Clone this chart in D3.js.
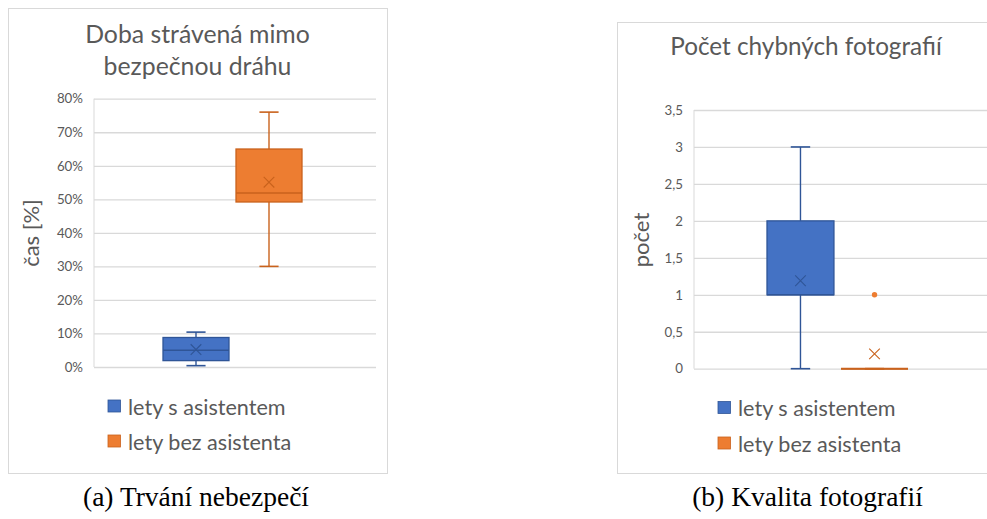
<!DOCTYPE html>
<html><head><meta charset="utf-8">
<script src="https://cdn.jsdelivr.net/npm/d3@7"></script>
<style>
html,body{margin:0;padding:0;background:#fff;}
svg{display:block;}
</style></head>
<body>
<script>
// ---------- DATA ----------
const series = ["lety s asistentem", "lety bez asistenta"];
const seriesColors = ["#4472C4", "#ED7D31"];
const seriesStroke = ["#2F5597", "#C9621C"];

// Chart (a): Doba strávená mimo bezpečnou dráhu  (fractions)
const durMin    = [0.004, 0.30];
const durQ1     = [0.019, 0.492];
const durMedian = [0.050, 0.519];
const durQ3     = [0.088, 0.650];
const durMax    = [0.104, 0.760];
const durMean   = [0.052, 0.551];
const durOutliers = [[], []];
const durTicks  = [0, 0.1, 0.2, 0.3, 0.4, 0.5, 0.6, 0.7, 0.8];
const durTickLabels = ["0%", "10%", "20%", "30%", "40%", "50%", "60%", "70%", "80%"];

// Chart (b): Počet chybných fotografií
const photoMin    = [0, 0];
const photoQ1     = [1, 0];
const photoMedian = [1, 0];
const photoQ3     = [2, 0];
const photoMax    = [3, 0];
const photoMean   = [1.19, 0.2];
const photoOutliers = [[], [1]];
const photoTicks  = [0, 0.5, 1, 1.5, 2, 2.5, 3, 3.5];
const photoTickLabels = ["0", "0,5", "1", "1,5", "2", "2,5", "3", "3,5"];

// ---------- LAYOUT ----------
const W = 987, H = 519;
const svg = d3.select("body").append("svg").attr("width", W).attr("height", H);
const FONT = "Lato, 'Open Sans', sans-serif";
const TXT = "#595959";
const GRID = "#D9D9D9";

const panels = [
  {
    border: [8, 8, 379, 465],
    title: ["Doba strávená mimo", "bezpečnou dráhu"], titleX: 197.5, titleY: [42.5, 75], titleSize: 24.8,
    yTitle: "čas [%]", yTitleX: 39, yTitleY: 233,
    plotX: [94, 376], plotY: [367, 98.7], bandRange: [163, 302],
    domain: [0, 0.8], ticks: durTicks, labels: durTickLabels,
    min: durMin, q1: durQ1, med: durMedian, q3: durQ3, max: durMax, mean: durMean, out: durOutliers,
    legX: 108, legY: [400, 435],
    caption: "(a) Trvání nebezpečí", capX: 196
  },
  {
    border: [617, 22, 400, 451],
    title: ["Počet chybných fotografií"], titleX: 806, titleY: [55], titleSize: 24.3,
    yTitle: "počet", yTitleX: 649, yTitleY: 240,
    plotX: [694, 987], plotY: [368.7, 110], bandRange: [767, 908],
    domain: [0, 3.5], ticks: photoTicks, labels: photoTickLabels,
    min: photoMin, q1: photoQ1, med: photoMedian, q3: photoQ3, max: photoMax, mean: photoMean, out: photoOutliers,
    legX: 718, legY: [401.5, 437],
    caption: "(b) Kvalita fotografií", capX: 807.5
  }
];

panels.forEach(p => {
  const g = svg.append("g");
  g.append("rect").attr("x", p.border[0] + 0.5).attr("y", p.border[1] + 0.5)
    .attr("width", p.border[2]).attr("height", p.border[3])
    .attr("fill", "#fff").attr("stroke", GRID).attr("stroke-width", 1);

  // title
  p.title.forEach((t, i) => {
    g.append("text").attr("x", p.titleX).attr("y", p.titleY[i])
      .attr("text-anchor", "middle").attr("font-family", FONT)
      .attr("font-size", p.titleSize).attr("fill", TXT).text(t);
  });

  const y = d3.scaleLinear().domain(p.domain).range(p.plotY);
  const x = d3.scaleBand().domain(series).range(p.bandRange).paddingInner(0.096);
  const pw = p.plotX[1] - p.plotX[0];

  // gridlines
  const grid = g.append("g").attr("transform", `translate(${p.plotX[0]},0)`)
    .call(d3.axisLeft(y).tickValues(p.ticks).tickSize(-pw).tickFormat(""));
  grid.select(".domain").remove();
  grid.selectAll("line").attr("stroke", GRID).attr("stroke-width", 1.3);

  // left vertical line
  g.append("line").attr("x1", p.plotX[0]).attr("x2", p.plotX[0])
    .attr("y1", y(p.domain[1])).attr("y2", y(p.domain[0]))
    .attr("stroke", GRID).attr("stroke-width", 1);

  // tick labels
  const ax = g.append("g").attr("transform", `translate(${p.plotX[0]},0)`)
    .call(d3.axisLeft(y).tickValues(p.ticks).tickSize(0).tickPadding(11)
      .tickFormat((d, i) => p.labels[i]));
  ax.select(".domain").remove();
  ax.selectAll("text").attr("font-family", FONT).attr("font-size", 13.3).attr("fill", TXT);

  // y title
  g.append("text").attr("transform", `translate(${p.yTitleX},${p.yTitleY}) rotate(-90)`)
    .attr("text-anchor", "middle").attr("font-family", FONT).attr("font-size", 22)
    .attr("fill", TXT).text(p.yTitle);

  // boxes
  series.forEach((s, i) => {
    const cx = x(s) + x.bandwidth() / 2;
    const bw = x.bandwidth();
    const capW = bw * 0.29;
    const sg = g.append("g");
    const st = seriesStroke[i];
    // whiskers
    sg.append("line").attr("x1", cx).attr("x2", cx).attr("y1", y(p.max[i])).attr("y2", y(p.q3[i]))
      .attr("stroke", st).attr("stroke-width", 1.4);
    sg.append("line").attr("x1", cx).attr("x2", cx).attr("y1", y(p.q1[i])).attr("y2", y(p.min[i]))
      .attr("stroke", st).attr("stroke-width", 1.4);
    sg.append("line").attr("x1", cx - capW / 2).attr("x2", cx + capW / 2).attr("y1", y(p.max[i])).attr("y2", y(p.max[i]))
      .attr("stroke", st).attr("stroke-width", 1.6);
    sg.append("line").attr("x1", cx - capW / 2).attr("x2", cx + capW / 2).attr("y1", y(p.min[i])).attr("y2", y(p.min[i]))
      .attr("stroke", st).attr("stroke-width", 1.6);
    // box
    const top = y(p.q3[i]), bot = y(p.q1[i]);
    if (bot - top > 0.5) {
      sg.append("rect").attr("x", x(s)).attr("y", top).attr("width", bw).attr("height", bot - top)
        .attr("fill", seriesColors[i]).attr("stroke", st).attr("stroke-width", 1.3);
    } else {
      sg.append("line").attr("x1", x(s)).attr("x2", x(s) + bw).attr("y1", top).attr("y2", top)
        .attr("stroke", st).attr("stroke-width", 2);
    }
    // median
    sg.append("line").attr("x1", x(s)).attr("x2", x(s) + bw).attr("y1", y(p.med[i])).attr("y2", y(p.med[i]))
      .attr("stroke", st).attr("stroke-width", 1.4);
    // mean X
    const my = y(p.mean[i]), r = 5.3;
    sg.append("path").attr("d", `M${cx - r},${my - r}L${cx + r},${my + r}M${cx - r},${my + r}L${cx + r},${my - r}`)
      .attr("stroke", st).attr("stroke-width", 1.1).attr("fill", "none");
    // outliers
    p.out[i].forEach(v => {
      sg.append("circle").attr("cx", cx).attr("cy", y(v)).attr("r", 2.7).attr("fill", seriesColors[i]);
    });
  });

  // legend
  series.forEach((s, i) => {
    g.append("rect").attr("x", p.legX).attr("y", p.legY[i]).attr("width", 12.5).attr("height", 12)
      .attr("fill", seriesColors[i]).attr("stroke", seriesStroke[i]).attr("stroke-width", 0.8);
    g.append("text").attr("x", p.legX + 20).attr("y", p.legY[i] + 14.5)
      .attr("font-family", FONT).attr("font-size", 21.6).attr("fill", TXT).text(s);
  });

  // caption
  svg.append("text").attr("x", p.capX).attr("y", 506).attr("text-anchor", "middle")
    .attr("font-family", "'Liberation Serif', 'DejaVu Serif', serif").attr("font-size", 27.5)
    .attr("fill", "#000").text(p.caption);
});
</script>
</body></html>
